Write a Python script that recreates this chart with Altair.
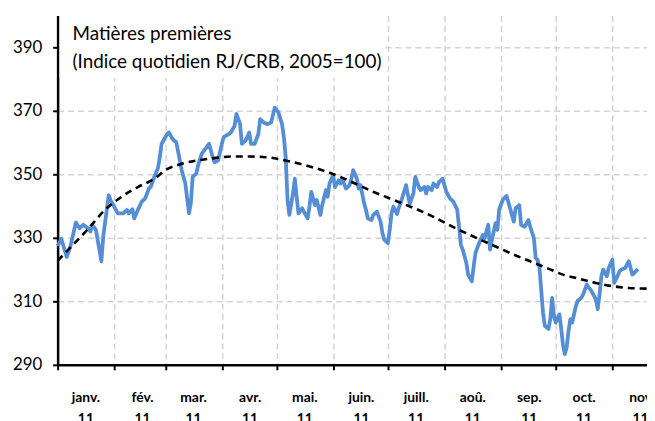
import altair as alt
import pandas as pd

start_date = "2011-01-01"

month_labels = ["janv.", "fév.", "mar.", "avr.", "mai.", "juin.", "juill.", "aoû.", "sep.", "oct.", "nov"]
year_label = "11"
y_ticks = [290, 310, 330, 350, 370, 390]
title_lines = ["Matières premières", "(Indice quotidien RJ/CRB, 2005=100)"]

# Daily index: day offset from 1 Jan 2011, and value
index_days = [
    0, 2, 5, 7, 10, 12, 14, 16, 18, 19,
    21, 24, 25, 28, 29, 31, 33, 36, 38, 39,
    41, 42, 44, 46, 48, 50, 51, 53, 55, 56,
    57, 60, 61, 63, 65, 67, 68, 70, 72, 73,
    74, 76, 77, 79, 81, 83, 85, 86, 88, 90,
    91, 94, 95, 97, 98, 100, 101, 103, 105, 106,
    108, 110, 111, 113, 115, 117, 119, 121, 123, 124,
    125, 126, 127, 129, 130, 131, 132, 134, 135, 137,
    138, 139, 141, 142, 144, 145, 147, 148, 149, 151,
    152, 154, 155, 156, 158, 160, 161, 162, 164, 165,
    166, 168, 169, 170, 172, 173, 175, 177, 178, 179,
    181, 182, 183, 184, 186, 187, 188, 191, 192, 193,
    195, 196, 198, 199, 201, 202, 203, 205, 206, 208,
    209, 211, 212, 213, 215, 217, 219, 220, 221, 222,
    224, 225, 227, 228, 229, 230, 231, 233, 234, 236,
    237, 238, 240, 241, 242, 244, 246, 247, 250, 251,
    253, 254, 256, 258, 259, 261, 262, 263, 264, 266,
    267, 269, 270, 271, 272, 273, 275, 276, 277, 278,
    279, 280, 281, 282, 284, 285, 287, 288, 290, 291,
    292, 293, 295, 296, 297, 298, 299, 301, 302, 304,
    305, 306, 308, 309, 311, 313, 314, 315, 316, 318,
]
index_values = [
    327.5, 329.7, 324.0, 327.3, 334.8, 333.0, 334.1, 333.3, 332.0, 334.1,
    332.5, 322.6, 330.4, 343.4, 341.9, 339.8, 337.7, 337.7, 338.8, 337.7,
    339.0, 336.1, 338.8, 341.3, 342.4, 345.5, 346.0, 349.2, 352.0, 355.4,
    359.6, 362.7, 363.2, 361.1, 360.1, 354.4, 351.3, 347.1, 337.7, 340.8,
    349.2, 350.2, 352.8, 356.5, 358.0, 359.6, 355.4, 353.8, 354.4, 359.6,
    361.7, 362.7, 363.2, 365.3, 369.0, 365.8, 359.6, 360.6, 363.2, 359.6,
    359.6, 362.7, 367.4, 366.3, 365.8, 366.3, 371.0, 369.5, 365.8, 361.7,
    355.4, 341.9, 337.2, 344.0, 348.6, 342.9, 337.7, 339.3, 338.2, 336.1,
    339.8, 344.5, 340.3, 341.9, 337.2, 340.3, 345.0, 342.9, 347.1, 349.7,
    346.0, 348.1, 347.1, 348.6, 345.5, 346.6, 348.6, 351.3, 348.6, 345.5,
    346.6, 340.8, 338.8, 336.1, 335.6, 337.2, 338.2, 335.1, 331.5, 329.4,
    328.3, 332.5, 337.7, 339.8, 337.5, 339.5, 341.0, 346.6, 343.4, 340.8,
    344.0, 349.2, 346.0, 345.0, 346.0, 344.0, 346.0, 345.0, 347.1, 346.0,
    347.6, 348.6, 346.6, 344.5, 342.4, 341.3, 338.8, 333.5, 327.8, 326.3,
    322.1, 318.4, 316.3, 321.0, 325.2, 326.8, 328.3, 330.9, 329.9, 334.1,
    326.3, 329.4, 334.6, 332.5, 339.0, 342.0, 343.2, 341.3, 335.1, 339.3,
    340.3, 334.1, 333.5, 335.6, 333.5, 329.9, 323.6, 323.1, 321.0, 306.5,
    302.3, 301.3, 304.4, 311.1, 305.4, 303.3, 305.9, 301.3, 296.0, 293.4,
    295.5, 300.7, 304.4, 303.3, 308.5, 310.1, 311.1, 312.2, 315.3, 314.3,
    313.8, 312.7, 310.6, 307.5, 312.2, 317.9, 320.0, 317.9, 320.5, 323.1,
    315.8, 316.9, 319.5, 320.0, 320.5, 322.6, 320.5, 318.4, 318.9, 320.2,
]

# Trend (dashed)
trend_days = [0, 17, 26, 35, 44, 53, 59, 68, 77, 86,
              95, 105, 114, 123, 136, 145, 154, 163, 173, 182,
              202, 220, 238, 250, 259, 268, 277, 286, 295, 304,
              313, 323]
trend_values = [322.8, 333.0, 338.8, 342.9, 346.0, 348.6, 351.3, 353.3, 354.4, 355.1,
                355.6, 355.6, 355.4, 354.6, 352.8, 351.3, 349.4, 347.1, 344.5, 342.4,
                337.7, 332.5, 327.8, 324.7, 322.6, 320.5, 318.4, 317.1, 315.8, 314.8,
                314.2, 314.0]

origin = pd.Timestamp(start_date)
idx_df = pd.DataFrame({"date": origin + pd.to_timedelta(index_days, unit="D"),
                       "value": index_values})
trend_df = pd.DataFrame({"date": origin + pd.to_timedelta(trend_days, unit="D"),
                         "value": trend_values})

FONT = "Lato"
months_js = "[" + ",".join("'" + m + "'" for m in month_labels) + "]"
label_expr = "[" + months_js + "[month(datum.value)], '" + year_label + "']"

x_enc = alt.X(
    "date:T",
    scale=alt.Scale(domain=[alt.DateTime(year=2011, month=1, date=1),
                            alt.DateTime(year=2011, month=11, date=20)]),
    axis=alt.Axis(
        values=[alt.DateTime(year=2011, month=m, date=1) for m in range(1, 12)],
        labelExpr=label_expr, labelOffset=28, labelPadding=21, labelLineHeight=21,
        labelFont=FONT, labelFontSize=14, labelFontWeight="bold", labelColor="black",
        labelOverlap=False, labelBound=False, labelFlush=False,
        tickSize=5, tickWidth=2, tickColor="black",
        domainColor="black", domainWidth=2.5,
        grid=True, gridDash=[6, 4], gridColor="#d4d4d4", gridWidth=1.5,
        title=None,
    ),
)
y_enc = alt.Y(
    "value:Q",
    scale=alt.Scale(domain=[290, 400], nice=False, zero=False),
    axis=alt.Axis(
        values=y_ticks, labelFont=FONT, labelFontSize=17, labelColor="black",
        labelPadding=11, tickSize=5, tickWidth=2, tickColor="black",
        domainColor="black", domainWidth=2.5,
        grid=True, gridDash=[6, 4], gridColor="#d4d4d4", gridWidth=1.5,
        title=None,
    ),
)

box = alt.Chart(pd.DataFrame({"k": [0]})).mark_rect(color="white").encode(
    x=alt.value(2), x2=alt.value(329), y=alt.value(0), y2=alt.value(63)
)

index_line = alt.Chart(idx_df).mark_line(
    color="#558ED5", strokeWidth=3.8, strokeJoin="round"
).encode(x=x_enc, y=y_enc)

trend_line = alt.Chart(trend_df).mark_line(
    color="black", strokeWidth=2.6, strokeDash=[7, 5], interpolate="monotone", clip=True
).encode(x=x_enc, y=y_enc)

t1 = alt.Chart(pd.DataFrame({"t": [title_lines[0]]})).mark_text(
    font=FONT, fontSize=19, color="black", align="left", baseline="alphabetic"
).encode(x=alt.value(15), y=alt.value(25), text="t:N")
t2 = alt.Chart(pd.DataFrame({"t": [title_lines[1]]})).mark_text(
    font=FONT, fontSize=19, color="black", align="left", baseline="alphabetic"
).encode(x=alt.value(15), y=alt.value(53), text="t:N")

chart = alt.layer(box, index_line, trend_line, t1, t2).properties(
    width=594, height=352,
    autosize=alt.AutoSizeParams(type="none"),
    padding={"left": 50, "top": 6, "right": 0, "bottom": 55},
).configure_view(strokeWidth=0)

chart.save("out.html", embed_options={"renderer": "svg", "actions": False})
